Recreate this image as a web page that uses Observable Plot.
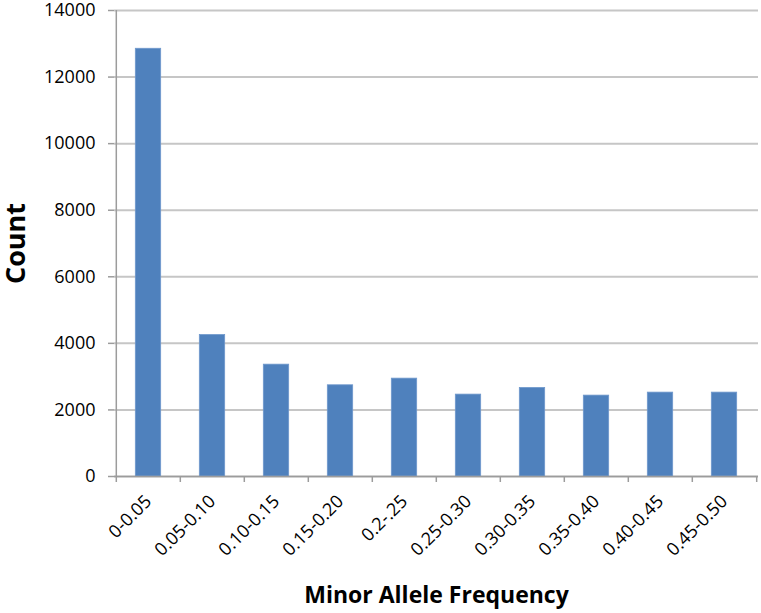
<!DOCTYPE html>
<html><head><meta charset="utf-8">
<script src="https://cdn.jsdelivr.net/npm/d3@7"></script>
<script src="https://cdn.jsdelivr.net/npm/@observablehq/plot@0.6"></script>
<style>html,body{margin:0;padding:0;background:#fff}</style>
</head><body><div id="chart"></div>
<script>
const categories = ["0-0.05","0.05-0.10","0.10-0.15","0.15-0.20","0.2-.25","0.25-0.30","0.30-0.35","0.35-0.40","0.40-0.45","0.45-0.50"];
const counts = [12850, 4250, 3360, 2740, 2940, 2460, 2660, 2430, 2520, 2520];
const yTicks = [0, 2000, 4000, 6000, 8000, 10000, 12000, 14000];
const yTitle = "Count";
const xTitle = "Minor Allele Frequency";

const data = categories.map((c, i) => ({category: c, count: counts[i]}));
const W = 761, H = 613, mL = 114, mR = 3, mT = 10, mB = 137;
const step = (W - mL - mR) / categories.length;
const axisColor = "#9c9c9c";

const chart = Plot.plot({
  width: W, height: H,
  marginLeft: mL, marginRight: mR, marginTop: mT, marginBottom: mB,
  style: {fontFamily: "'Open Sans', sans-serif", background: "#fff", color: "#000", overflow: "visible"},
  x: {domain: categories, padding: 0, label: null, axis: null},
  y: {domain: [yTicks[0], yTicks[yTicks.length - 1]], label: null, axis: null},
  marks: [
    Plot.gridY(yTicks, {stroke: "#c6c6c6", strokeWidth: 2, strokeOpacity: 1}),
    Plot.barY(data, {x: "category", y: "count", fill: "#4F81BD", stroke: "#6f98cc", strokeWidth: 0.8,
      insetLeft: 0.3 * step, insetRight: 0.3 * step}),
    Plot.axisY(yTicks, {tickSize: 6, tickPadding: 13, stroke: axisColor, strokeWidth: 1.5,
      fontSize: 18, fill: "#000", label: null, tickFormat: d => String(d)}),
    Plot.ruleX([categories[0]], {dx: -step / 2, y1: yTicks[0], y2: yTicks[yTicks.length - 1], stroke: axisColor, strokeWidth: 1.5}),
    Plot.ruleY([0], {stroke: axisColor, strokeWidth: 1.5}),
    Plot.axisX(categories, {tickSize: 6, tickFormat: () => "", dx: -step / 2, stroke: axisColor, strokeWidth: 1.5, label: null}),
    Plot.axisX([categories[categories.length - 1]], {tickSize: 6, tickFormat: () => "", dx: step / 2, stroke: axisColor, strokeWidth: 1.5, label: null}),
    Plot.axisX(categories, {tickSize: 0, tickPadding: 22, tickRotate: -45, fontSize: 18, fill: "#000", label: null}),
    Plot.text([yTitle], {frameAnchor: "left", textAnchor: "middle", rotate: -90, dx: -98, fontSize: 27, fontWeight: "bold", fill: "#000"}),
    Plot.text([xTitle], {frameAnchor: "bottom", lineAnchor: "middle", dy: 119, fontSize: 23, fontWeight: "bold", fill: "#000"})
  ]
});
document.getElementById("chart").appendChild(chart);
</script>
</body></html>
